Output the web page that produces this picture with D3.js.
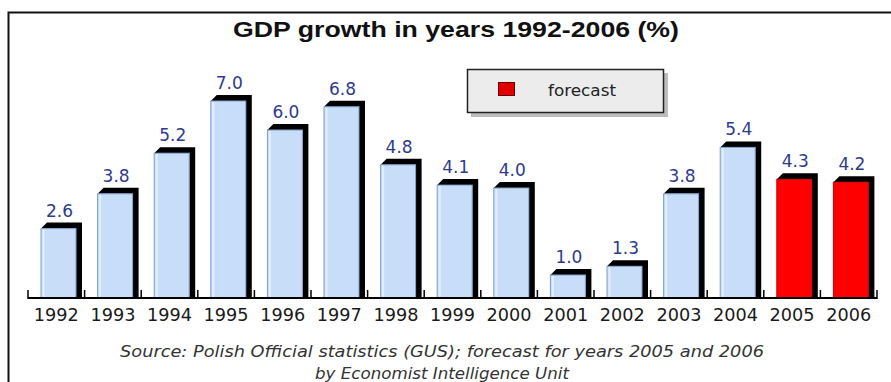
<!DOCTYPE html>
<html>
<head>
<meta charset="utf-8">
<script src="https://cdn.jsdelivr.net/npm/d3@7"></script>
<style>
  html, body { margin: 0; padding: 0; background: #fff; }
  svg { display: block; }
</style>
</head>
<body>
<svg id="chart" width="891" height="382"></svg>
<script>
// ---- data ----
const years = ["1992","1993","1994","1995","1996","1997","1998","1999","2000","2001","2002","2003","2004","2005","2006"];
const growth = [2.6, 3.8, 5.2, 7.0, 6.0, 6.8, 4.8, 4.1, 4.0, 1.0, 1.3, 3.8, 5.4, 4.3, 4.2];
const forecastYears = ["2005","2006"];
const titleText = "GDP growth in years 1992-2006 (%)";
const legendLabel = "forecast";
const sourceLines = [
  "Source: Polish Official statistics (GUS); forecast for years 2005 and 2006",
  "by Economist Intelligence Unit"
];

const svg = d3.select("#chart");

// frame
svg.append("path")
  .attr("d", "M8.5,390 L8.5,12.5 L895,12.5")
  .attr("fill", "none").attr("stroke", "#111").attr("stroke-width", 2);

// title
svg.append("text")
  .attr("x", 456).attr("y", 37)
  .attr("text-anchor", "middle")
  .attr("font-family", "'Liberation Sans Narrow', 'Liberation Sans', Arial, sans-serif")
  .attr("font-weight", "bold").attr("font-size", 22)
  .attr("textLength", 446).attr("lengthAdjust", "spacingAndGlyphs")
  .attr("fill", "#111")
  .text(titleText);

// scales
const x = d3.scaleBand().domain(years).range([28, 877]).paddingInner(0).paddingOuter(0);
const y = d3.scaleLinear().domain([0, 7]).range([298, 95]);

const step = x.step();
const frontOff = 13, frontW = 35, dx = 6, dy = 6;
const baseY = y(0);

const blue = "#c8ddf7", blueEdge = "#7f9fcc";
const red = "#ff0000", redEdge = "#c00000";

const bars = svg.append("g");
years.forEach((yr, i) => {
  const v = growth[i];
  const isF = forecastYears.includes(yr);
  const x0 = x(yr) + frontOff;
  const yTop = y(v);          // back top
  const yf = yTop + dy;       // front top
  bars.append("path")
    .attr("d", `M${x0},${yf} L${x0 + dx},${yTop} L${x0 + frontW + dx},${yTop} L${x0 + frontW + dx},${baseY - 1} L${x0 + frontW},${baseY} L${x0 + frontW},${yf} Z`)
    .attr("fill", "#000");
  bars.append("rect")
    .attr("x", x0).attr("y", yf)
    .attr("width", frontW).attr("height", baseY - yf)
    .attr("fill", isF ? red : blue)
    .attr("stroke", isF ? redEdge : blueEdge).attr("stroke-width", 1);
  if (!isF) {
    bars.append("line")
      .attr("x1", x0 + 2.5).attr("x2", x0 + 2.5)
      .attr("y1", yf + 1).attr("y2", baseY)
      .attr("stroke", "#e3efff").attr("stroke-width", 2);
  }
  svg.append("text")
    .attr("x", x0 + frontW / 2 + 1).attr("y", yTop - 6)
    .attr("text-anchor", "middle")
    .attr("font-family", "'DejaVu Sans', sans-serif")
    .attr("font-size", 17)
    .attr("fill", "#2e3a8c")
    .text(d3.format(".1f")(v));
});

// axis
const axis = d3.axisBottom(x).tickSize(0).tickPadding(0);
const gAxis = svg.append("g").attr("transform", `translate(0,${baseY})`).call(axis);
gAxis.select(".domain").remove();
gAxis.selectAll("text")
  .attr("y", 23)
  .attr("dy", 0)
  .attr("font-family", "'DejaVu Sans', sans-serif")
  .attr("font-size", 17.5)
  .attr("textLength", 45).attr("lengthAdjust", "spacingAndGlyphs")
  .attr("fill", "#1a1a1a");
svg.append("line")
  .attr("x1", 28).attr("x2", 877).attr("y1", baseY).attr("y2", baseY)
  .attr("stroke", "#000").attr("stroke-width", 2);
const tickPos = years.map(yr => x(yr)).concat([x(years[years.length - 1]) + step]);
svg.append("g").selectAll("line").data(tickPos).join("line")
  .attr("x1", d => d).attr("x2", d => d)
  .attr("y1", baseY - 8).attr("y2", baseY + 1)
  .attr("stroke", "#000").attr("stroke-width", 1.5);

// legend
const lg = svg.append("g");
lg.append("rect").attr("x", 471).attr("y", 73).attr("width", 197).attr("height", 44).attr("fill", "#bdbdbd");
lg.append("rect").attr("x", 467.5).attr("y", 69.5).attr("width", 196).attr("height", 43)
  .attr("fill", "#ececec").attr("stroke", "#222").attr("stroke-width", 1.5);
lg.append("rect").attr("x", 498.5).attr("y", 82.5).attr("width", 16).attr("height", 13)
  .attr("fill", "#e00000").attr("stroke", "#600").attr("stroke-width", 1);
lg.append("text").attr("x", 548).attr("y", 96)
  .attr("font-family", "'DejaVu Sans', sans-serif").attr("font-size", 16)
  .attr("textLength", 68).attr("lengthAdjust", "spacingAndGlyphs")
  .attr("fill", "#222")
  .text(legendLabel);

// source
const srcLens = [644, 254];
svg.append("g").selectAll("text").data(sourceLines).join("text")
  .attr("x", 442).attr("y", (d, i) => 357 + i * 22)
  .attr("text-anchor", "middle")
  .attr("font-family", "'DejaVu Sans', sans-serif")
  .attr("font-style", "italic").attr("font-size", 15)
  .attr("textLength", (d, i) => srcLens[i]).attr("lengthAdjust", "spacingAndGlyphs")
  .attr("fill", "#333")
  .text(d => d);
</script>
</body>
</html>
